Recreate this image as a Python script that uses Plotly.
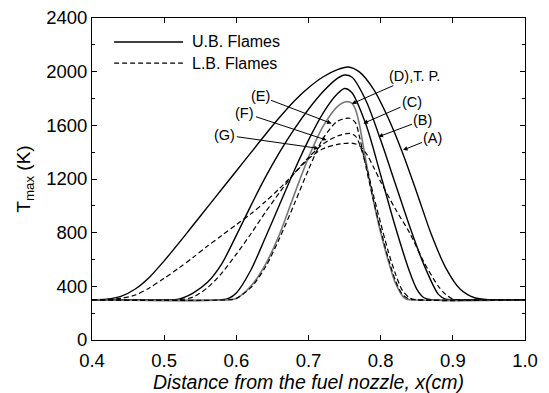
import plotly.graph_objects as go

# ---- data ----
xA = [0.40, 0.42, 0.44, 0.46, 0.48, 0.50, 0.52, 0.54, 0.56, 0.58, 0.60, 0.62, 0.64, 0.66, 0.68, 0.70, 0.72, 0.74, 0.755, 0.77, 0.79, 0.81, 0.83, 0.85, 0.87, 0.89, 0.91, 0.93, 0.95, 1.00]
tA = [300, 304, 325, 380, 470, 590, 720, 855, 990, 1125, 1260, 1395, 1530, 1660, 1780, 1880, 1960, 2015, 2035, 2000, 1870, 1660, 1400, 1100, 790, 540, 380, 315, 300, 300]

xB = [0.40, 0.50, 0.52, 0.54, 0.56, 0.58, 0.60, 0.62, 0.64, 0.66, 0.68, 0.70, 0.72, 0.74, 0.75, 0.76, 0.78, 0.80, 0.82, 0.84, 0.86, 0.88, 0.89, 0.90, 1.00]
tB = [300, 300, 305, 350, 430, 570, 780, 1000, 1210, 1400, 1570, 1720, 1850, 1950, 1975, 1960, 1780, 1490, 1170, 850, 560, 340, 305, 300, 300]

xC = [0.40, 0.58, 0.59, 0.60, 0.62, 0.64, 0.66, 0.68, 0.70, 0.72, 0.74, 0.75, 0.76, 0.78, 0.80, 0.82, 0.84, 0.85, 0.86, 0.87, 1.00]
tC = [300, 300, 312, 350, 520, 760, 1010, 1260, 1490, 1690, 1835, 1875, 1845, 1600, 1230, 850, 510, 380, 315, 300, 300]

xD = [0.40, 0.59, 0.60, 0.62, 0.64, 0.66, 0.68, 0.70, 0.72, 0.74, 0.752, 0.76, 0.765, 0.77, 0.78, 0.79, 0.80, 0.81, 0.82, 0.83, 0.835, 0.84, 1.00]
tD = [300, 300, 310, 400, 560, 790, 1080, 1360, 1590, 1740, 1776, 1765, 1720, 1620, 1320, 1040, 800, 600, 430, 330, 305, 300, 300]

xE = [0.40, 0.59, 0.60, 0.62, 0.64, 0.66, 0.68, 0.70, 0.72, 0.74, 0.757, 0.765, 0.77, 0.78, 0.79, 0.80, 0.81, 0.82, 0.83, 0.84, 0.85, 1.00]
tE = [300, 300, 310, 390, 540, 760, 1010, 1270, 1500, 1630, 1653, 1620, 1530, 1280, 1040, 820, 620, 450, 340, 305, 300, 300]

xF = [0.40, 0.52, 0.54, 0.56, 0.58, 0.60, 0.62, 0.64, 0.66, 0.68, 0.70, 0.72, 0.74, 0.757, 0.765, 0.77, 0.78, 0.79, 0.80, 0.81, 0.82, 0.83, 0.84, 0.85, 1.00]
tF = [300, 300, 320, 390, 500, 640, 790, 950, 1100, 1240, 1360, 1460, 1520, 1540, 1520, 1470, 1300, 1080, 870, 670, 500, 370, 315, 300, 300]

xG = [0.40, 0.42, 0.44, 0.46, 0.48, 0.50, 0.52, 0.54, 0.56, 0.58, 0.60, 0.62, 0.64, 0.66, 0.68, 0.70, 0.72, 0.74, 0.76, 0.77, 0.78, 0.79, 0.80, 0.82, 0.84, 0.86, 0.88, 0.89, 0.90, 0.91, 1.00]
tG = [300, 302, 310, 335, 390, 460, 535, 615, 700, 780, 860, 940, 1030, 1130, 1240, 1350, 1425, 1458, 1467, 1450, 1390, 1290, 1180, 980, 800, 580, 400, 340, 305, 300, 300]

labels = ["(A)", "(B)", "(C)", "(D),T. P.", "(E)", "(F)", "(G)"]
head_x = [0.831, 0.797, 0.776, 0.760, 0.732, 0.725, 0.714]
head_t = [1416, 1515, 1614, 1760, 1614, 1490, 1428]
text_x = [0.8725, 0.8586, 0.8434, 0.8475, 0.6328, 0.612, 0.584]
text_t = [1505, 1639, 1773, 1967, 1818, 1691, 1528]

legend_names = ["U.B. Flames", "L.B. Flames"]

x_ticks = [0.4, 0.5, 0.6, 0.7, 0.8, 0.9, 1.0]
y_ticks = [0, 400, 800, 1200, 1600, 2000, 2400]

FONT = "Liberation Sans, Arial"
fig = go.Figure()
solid = dict(color="black", width=1.4)
dashed = dict(color="black", width=1.2, dash="5px,3px")
spl = dict(shape="spline", smoothing=0.8)

fig.add_trace(go.Scatter(x=xA, y=tA, mode="lines", line=dict(**solid, **spl), name="(A)", showlegend=False))
fig.add_trace(go.Scatter(x=xB, y=tB, mode="lines", line=dict(**solid, **spl), name="(B)", showlegend=False))
fig.add_trace(go.Scatter(x=xC, y=tC, mode="lines", line=dict(**solid, **spl), name="(C)", showlegend=False))
fig.add_trace(go.Scatter(x=xD, y=tD, mode="lines", line=dict(color="#777777", width=1.6, **spl), name="(D)", showlegend=False))
fig.add_trace(go.Scatter(x=xG, y=tG, mode="lines", line=dict(**dashed, **spl), name="(G)", showlegend=False))
fig.add_trace(go.Scatter(x=xF, y=tF, mode="lines", line=dict(**dashed, **spl), name="(F)", showlegend=False))
fig.add_trace(go.Scatter(x=xE, y=tE, mode="lines", line=dict(**dashed, **spl), name="(E)", showlegend=False))

for lab, hx, ht, tx, tt in zip(labels, head_x, head_t, text_x, text_t):
    fig.add_annotation(x=hx, y=ht, ax=tx, ay=tt, axref="x", ayref="y", xref="x", yref="y",
                       text=lab, showarrow=True, arrowhead=2, arrowsize=0.9, arrowwidth=1,
                       arrowcolor="black", font=dict(size=14.5, color="black", family=FONT))

# legend key (drawn in paper coordinates)
for i, (nm, dsh) in enumerate(zip(legend_names, ["solid", "5px,3px"])):
    yp = 0.9255 - i * 0.0655
    fig.add_shape(type="line", xref="paper", yref="paper", x0=0.051, x1=0.210, y0=yp, y1=yp,
                  line=dict(color="black", width=1.3, dash=dsh))
    fig.add_annotation(xref="paper", yref="paper", x=0.226, y=yp, text=nm, showarrow=False,
                       xanchor="left", yanchor="middle", font=dict(size=16, color="black", family=FONT))

axis_common = dict(showline=True, linecolor="black", linewidth=1, mirror="ticks", ticks="inside",
                   tickcolor="black", showgrid=False, zeroline=False, automargin=False,
                   tickfont=dict(size=18.5, color="black", family=FONT))

fig.update_xaxes(range=[0.4, 1.0], tickvals=x_ticks, ticktext=[f"{v:.1f}" for v in x_ticks], ticklen=5,
                 ticklabelstandoff=4,
                 title=dict(text="<i>Distance from the fuel nozzle, x(cm)</i>", font=dict(size=19.5, color="black", family=FONT), standoff=6),
                 **axis_common)
fig.update_yaxes(range=[0, 2400], tickvals=y_ticks, ticklen=5,
                 minor=dict(dtick=200, ticks="inside", ticklen=3, tickcolor="black"),
                 title=dict(text="T<sub>max</sub> (K)", font=dict(size=19, color="black", family=FONT), standoff=10),
                 **axis_common)

fig.update_layout(width=549, height=393, margin=dict(l=92, r=24, t=18, b=53),
                  plot_bgcolor="white", paper_bgcolor="white", showlegend=False)

fig.write_html("out.html")
